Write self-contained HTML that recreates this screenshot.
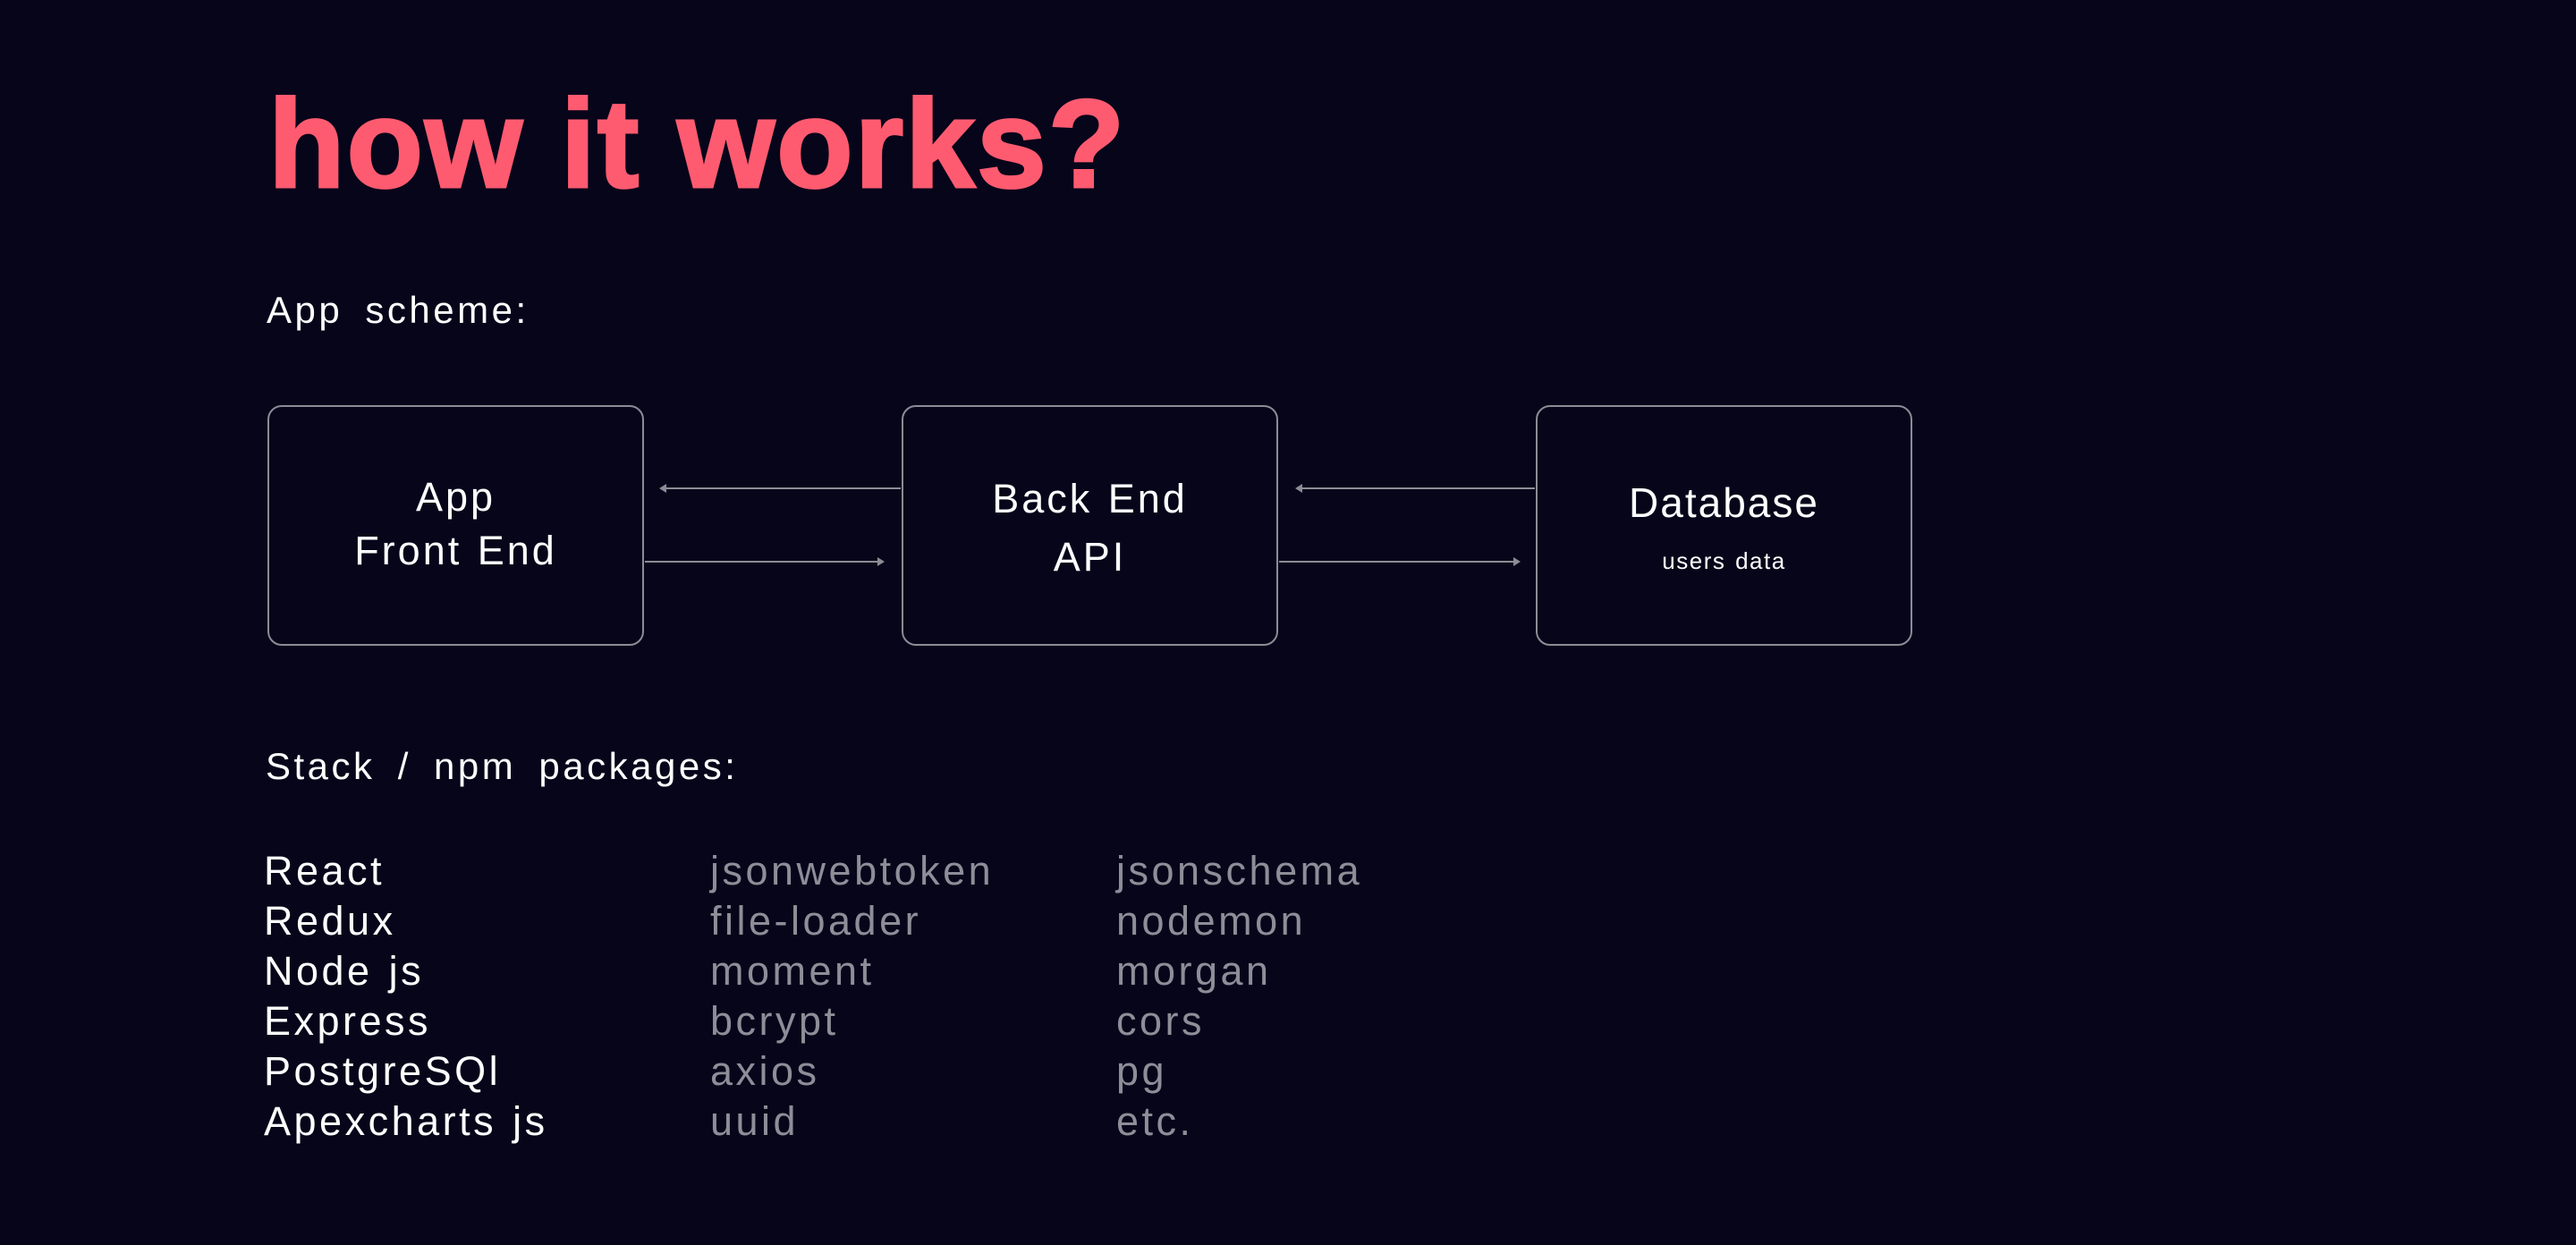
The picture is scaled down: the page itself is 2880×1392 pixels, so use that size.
<!DOCTYPE html>
<html><head><meta charset="utf-8"><style>
html,body{margin:0;padding:0;background:#07051a;}
body{width:2880px;height:1392px;position:relative;overflow:hidden;font-family:"Liberation Sans",sans-serif;color:#fff;}
.t{position:absolute;white-space:nowrap;line-height:1;}
.title{left:300px;top:91px;font-size:140px;font-weight:bold;color:#ff5b70;letter-spacing:2px;-webkit-text-stroke:3px #ff5b70;}
.h2{font-size:42px;letter-spacing:3.5px;word-spacing:10px;}
.box{position:absolute;top:453px;width:421px;height:269px;border:2px solid #8c8c96;border-radius:16px;box-sizing:border-box;}
.bl{position:absolute;left:0;width:100%;text-align:center;font-size:45px;line-height:1;letter-spacing:3px;word-spacing:2px;}
.li{font-size:45px;letter-spacing:3.5px;word-spacing:2px;}
.g{color:#8e8d98;}
</style></head><body>
<div class="t title">how it works?</div>
<div class="t h2" style="left:298px;top:326px;">App scheme:</div>

<div class="box" style="left:299px;">
  <div class="bl" style="top:78px;">App</div>
  <div class="bl" style="top:138px;">Front End</div>
</div>
<div class="box" style="left:1008px;">
  <div class="bl" style="top:80px;">Back End</div>
  <div class="bl" style="top:145px;">API</div>
</div>
<div class="box" style="left:1717px;">
  <div class="bl" style="top:84px;font-size:46px;letter-spacing:2px;">Database</div>
  <div class="bl" style="top:159px;font-size:26px;letter-spacing:1.5px;">users data</div>
</div>

<svg width="2880" height="1392" style="position:absolute;left:0;top:0;" xmlns="http://www.w3.org/2000/svg">
  <g stroke="#8c8c96" stroke-width="2" fill="#8c8c96">
    <line x1="1007" y1="546" x2="742" y2="546"/>
    <polygon points="737,546 745,541 745,551" stroke="none"/>
    <line x1="721" y1="628" x2="984" y2="628"/>
    <polygon points="989,628 981,623 981,633" stroke="none"/>
    <line x1="1716" y1="546" x2="1453" y2="546"/>
    <polygon points="1448,546 1456,541 1456,551" stroke="none"/>
    <line x1="1430" y1="628" x2="1695" y2="628"/>
    <polygon points="1700,628 1692,623 1692,633" stroke="none"/>
  </g>
</svg>

<div class="t h2" style="left:297px;top:836px;">Stack / npm packages:</div>

<div class="t li" style="left:295px;top:946px;line-height:56px;">React<br>Redux<br>Node js<br>Express<br>PostgreSQl<br>Apexcharts js</div>
<div class="t li g" style="left:794px;top:946px;line-height:56px;">jsonwebtoken<br>file-loader<br>moment<br>bcrypt<br>axios<br>uuid</div>
<div class="t li g" style="left:1248px;top:946px;line-height:56px;">jsonschema<br>nodemon<br>morgan<br>cors<br>pg<br>etc.</div>
</body></html>
